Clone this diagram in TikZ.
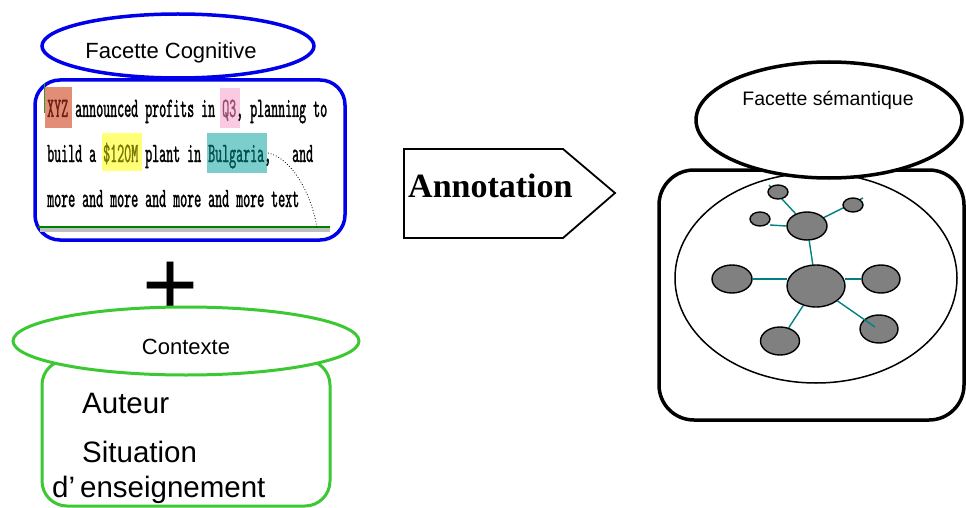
\documentclass[tikz,border=0pt]{standalone}
\usepackage{fontspec}
\usepackage{graphicx}
\setmainfont{Liberation Sans}
\newfontfamily\annfont{Liberation Serif}
\newfontfamily\cmono[Extension=.otf,FakeStretch=0.47619,FakeBold=1.0]{lmmono10-regular}
\usetikzlibrary{shapes.geometric,backgrounds}
\definecolor{cblue}{RGB}{0,0,235}
\definecolor{cgreen}{RGB}{60,200,50}
\definecolor{cteal}{RGB}{0,128,128}
\definecolor{cgray}{RGB}{128,128,128}
\definecolor{hxyz}{RGB}{226,142,118}
\definecolor{hq}{RGB}{250,202,226}
\definecolor{hmoney}{RGB}{255,255,120}
\definecolor{hbul}{RGB}{124,206,204}
\definecolor{txyz}{RGB}{110,30,20}
\definecolor{tq}{RGB}{150,80,110}
\definecolor{tmoney}{RGB}{120,120,0}
\definecolor{tbul}{RGB}{0,80,80}
\newcommand{\mono}[1]{{\cmono\fontsize{28}{28}\selectfont #1}}
\begin{document}
\begin{tikzpicture}[x=1pt,y=-1pt,
  ell/.style={ellipse,inner sep=0pt,fill=white},
  lbl/.style={inner sep=0pt,font=\fontsize{22}{26}\selectfont},
  ctxline/.style={anchor=base west,inner sep=0pt,font=\fontsize{29.5}{32}\selectfont},
  gnode/.style={ellipse,inner sep=0pt,fill=cgray,draw=black,line width=1.4pt},
  gedge/.style={draw=cteal,line width=1.4pt},
  monoline/.style={anchor=base west,inner sep=0pt}]
\useasboundingbox (0,0) rectangle (966,508);

% ---------- Facette cognitive ----------
\draw[cblue,line width=3.5pt,rounded corners=25pt] (35,80) rectangle (345,240);
\node[ell,draw=cblue,line width=3.5pt,minimum width=272pt,minimum height=64pt] (fc) at (178,46) {};
\node[lbl] (fct) at (171,53) {Facette Cognitive};

% highlights
\fill[hxyz] (45,87) rectangle (72,128);
\fill[hq] (220,88) rectangle (240,128);
\fill[hmoney] (102,133) rectangle (142,171);
\fill[hbul] (207,133) rectangle (267,173);
\fill[black!25] (40,228) rectangle (330,232);
\draw[black!50!green,line width=1.5pt] (38,227) -- (330,227);
\draw[black!35!green!60!gray,line width=0.6pt] (44,83) -- (44,113);

\node[monoline] (l1) at (47,117) {\mono{\textcolor{txyz}{XYZ} announced profits in \textcolor{tq}{Q3}, planning to}};
\node[monoline] (l2) at (47,162) {\mono{build a \textcolor{tmoney}{\$120M} plant in \textcolor{tbul}{Bulgaria},\ \ \ and}};
\node[monoline] (l3) at (47,207) {\mono{more and more and more and more text}};
\coordinate (dc1) at (268,153);
\coordinate (dc2) at (317,228);
\draw[dotted,line width=0.8pt] (dc1) .. controls (292,158) and (312,195) .. (dc2);

% ---------- plus ----------
\node[anchor=base,inner sep=0pt,font=\fontsize{96}{96}\selectfont] (plus) at (171,317) {+};

% ---------- Contexte ----------
\draw[cgreen,line width=3pt,rounded corners=25pt] (42,360) rectangle (330,506);
\node[ell,draw=cgreen,line width=3pt,minimum width=346pt,minimum height=68pt] (ctx) at (186,341) {};
\node[lbl] (ctxt) at (186,347) {Contexte};
\node[ctxline] (aut) at (82,413) {Auteur};
\node[ctxline] (sit) at (82,462) {Situation};
\node[ctxline] (ens) at (52,497) {d’\kern5pt enseignement};

% ---------- Annotation arrow ----------
\draw[line width=1.8pt,line join=miter] (404,149) -- (563,149) -- (615,193) -- (563,238) -- (404,238) -- cycle;
\node[anchor=base west,inner sep=0pt,font=\annfont\bfseries\fontsize{34}{38}\selectfont] (ann) at (408,197) {Annotation};

% ---------- Facette sémantique ----------
\draw[line width=3.5pt,rounded corners=35pt] (659,170) rectangle (964,420);
\draw[line width=1.5pt] (816,278) ellipse [x radius=141pt,y radius=105pt];
\node[ell,draw=black,line width=3.5pt,minimum width=266pt,minimum height=116pt] (fs) at (829,120) {};
\node[inner sep=0pt,font=\fontsize{19.5}{22}\selectfont] (fst) at (828,100) {Facette sémantique};

% graph nodes
\node[gnode,minimum width=58pt,minimum height=42pt] (c) at (816,286) {};
\node[gnode,minimum width=40pt,minimum height=28pt] (um) at (807,226) {};
\node[gnode,minimum width=40pt,minimum height=28pt] (lm) at (732,279) {};
\node[gnode,minimum width=38pt,minimum height=28pt] (rm) at (881,279) {};
\node[gnode,minimum width=39pt,minimum height=28pt] (bl) at (780,341) {};
\node[gnode,minimum width=38pt,minimum height=28pt] (br) at (879,329) {};
\node[gnode,minimum width=20pt,minimum height=14pt] (st) at (778,192) {};
\node[gnode,minimum width=20pt,minimum height=14pt] (sl) at (760,219) {};
\node[gnode,minimum width=20pt,minimum height=14pt] (sr) at (853,205) {};
\coordinate (stend) at (769,185);
\coordinate (slend) at (770,225);
\coordinate (srend) at (863,198);
\coordinate (brend) at (875,327);
\coordinate (cl) at (787,279);
\coordinate (cr) at (845,279);
\begin{pgfonlayer}{background}
  \draw[gedge] (c) -- (um);
  \draw[gedge] (lm.east) -- (cl);
  \draw[gedge] (cr) -- (rm.west);
  \draw[gedge] (c) -- (bl);
  \draw[gedge] (um) -- (stend);
  \draw[gedge] (um.west) -- (slend);
  \draw[gedge] (um) -- (srend);
\end{pgfonlayer}
\draw[gedge] (c) -- (brend);
\end{tikzpicture}
\end{document}
